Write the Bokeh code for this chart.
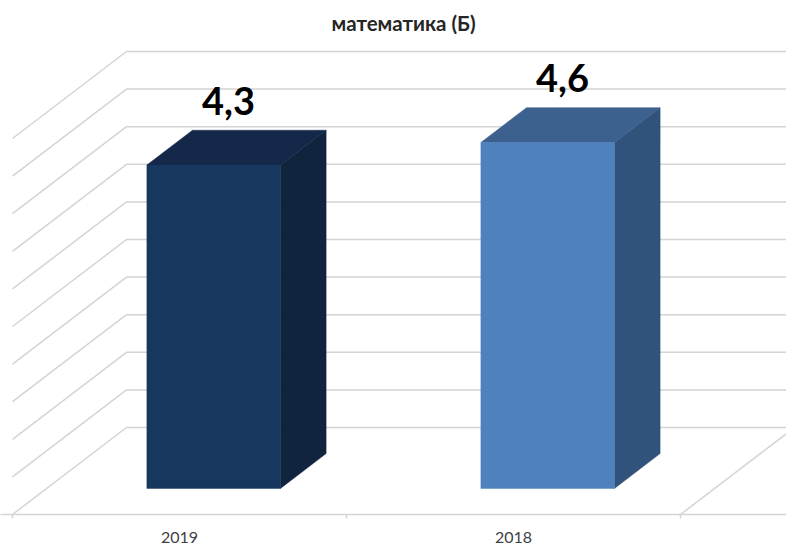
from bokeh.plotting import figure
from bokeh.models import Range1d, LinearAxis, FixedTicker, ColumnDataSource
from bokeh.core.properties import value
from bokeh.embed import file_html
from bokeh.resources import INLINE

# data
title = "математика (Б)"
categories = ["2019", "2018"]
scores = [4.3, 4.6]
score_labels = ["4,3", "4,6"]
grid_values = [0, 0.5, 1, 1.5, 2, 2.5, 3, 3.5, 4, 4.5, 5]
front_colors = ["#17375E", "#4F81BD"]
top_colors = ["#14294A", "#3C618F"]
side_colors = ["#10243E", "#31527A"]

# oblique projection of (category position, depth 0..1, value) to the plane
DX = 114 / 334   # shift in category units for full depth
DY = 87 / 75.2   # shift in value units for full depth
GAP = 0.3        # gap either side of a bar, in category units
Z0, Z1 = 0.3, 0.7


def proj(c, z, v):
    return c + z * DX, v + z * DY


W, H = 786, 545
FRAME_H = 476
BOTTOM = 31
p = figure(
    width=W, height=H, frame_width=W, frame_height=FRAME_H,
    output_backend="svg", toolbar_location=None,
    x_range=Range1d(-12 / 334, 774 / 334),
    y_range=Range1d(0, FRAME_H / 75.2),
    min_border_left=0, min_border_right=0, min_border_top=38, min_border_bottom=BOTTOM,
    x_axis_type=None, y_axis_type=None, outline_line_color=None,
    background_fill_color="white", border_fill_color="white",
    title=title,
)
p.grid.visible = False
p.title.align = "left"
p.title.offset = 331
p.title.text_font = "Lato"
p.title.text_font_size = "20.5px"
p.title.text_font_style = "bold"
p.title.text_color = "#262626"
p.title.standoff = 7

# walls and floor
GRID = "#D4D4D4"
xs, ys = [], []
for v in grid_values:
    a, b, c = proj(0, 0, v), proj(0, 1, v), proj(2, 1, v)
    xs.append([a[0], b[0], c[0]])
    ys.append([a[1], b[1], c[1]])
p.multi_line(xs, ys, line_color=GRID, line_width=1.5)
a, b = proj(2, 0, 0), proj(2, 1, 0)
p.line([a[0], b[0]], [a[1], b[1]], line_color=GRID, line_width=1.5)

# bars
for i, val in enumerate(scores):
    c0, c1 = i + GAP, i + 1 - GAP
    front = [proj(c0, Z0, 0), proj(c1, Z0, 0), proj(c1, Z0, val), proj(c0, Z0, val)]
    top = [proj(c0, Z0, val), proj(c1, Z0, val), proj(c1, Z1, val), proj(c0, Z1, val)]
    side = [proj(c1, Z0, 0), proj(c1, Z1, 0), proj(c1, Z1, val), proj(c1, Z0, val)]
    for poly, col in ((side, side_colors[i]), (top, top_colors[i]), (front, front_colors[i])):
        p.patch([q[0] for q in poly], [q[1] for q in poly], fill_color=col, line_color=col, line_width=0.5)

# value labels
centres = [proj(i + 0.5, 0.5, val) for i, val in enumerate(scores)]
src = ColumnDataSource(dict(x=[q[0] for q in centres], y=[q[1] for q in centres], t=score_labels))
p.text("x", "y", text="t", source=src, x_offset=-8, y_offset=-47,
       text_align="center", text_baseline="middle", text_color="#000000",
       text_font=value("Lato"), text_font_size="38px", text_font_style="bold")

# category axis
axis = LinearAxis(
    ticker=FixedTicker(ticks=[0.5, 1.5], minor_ticks=[0, 1, 2]),
    major_label_overrides={i + 0.5: c for i, c in enumerate(categories)},
    major_tick_out=0, major_tick_in=0, minor_tick_out=4, minor_tick_in=0,
    axis_line_color=GRID, axis_line_width=1.5, minor_tick_line_color=GRID, minor_tick_line_width=1.5,
    major_label_standoff=13, major_label_text_font="Lato",
    major_label_text_font_size="16px", major_label_text_color="#404040",
)
p.add_layout(axis, "below")

open("out.html", "w").write(file_html(p, INLINE))
